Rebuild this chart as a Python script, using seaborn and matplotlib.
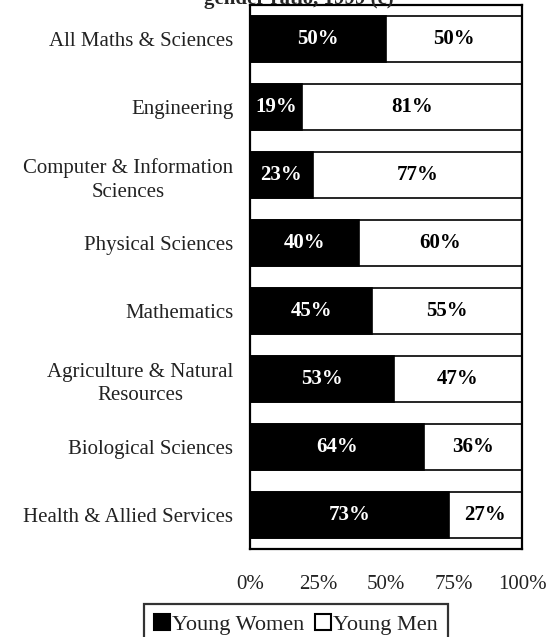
import matplotlib
matplotlib.use("Agg")
import matplotlib.pyplot as plt
from matplotlib.patches import Patch
import seaborn as sns
import pandas as pd

categories = [
    "All Maths & Sciences",
    "Engineering",
    "Computer & Information\nSciences",
    "Physical Sciences",
    "Mathematics",
    "Agriculture & Natural\nResources",
    "Biological Sciences",
    "Health & Allied Services",
]
young_women = [50, 19, 23, 40, 45, 53, 64, 73]
young_men = [50, 81, 77, 60, 55, 47, 36, 27]
x_ticks = [0, 25, 50, 75, 100]
x_tick_labels = ["0%", "25%", "50%", "75%", "100%"]
title = "gender ratio, 1999 (c)"
legend_labels = ["Young Women", "Young Men"]

sns.set_theme(style="white")
plt.rcParams["font.family"] = ["Liberation Serif", "DejaVu Serif"]

FS = 15

df = pd.DataFrame({
    "category": categories,
    "women": young_women,
    "men": young_men,
})
df["total"] = df["women"] + df["men"]

W, H = 559, 637
fig = plt.figure(figsize=(W / 100, H / 100), dpi=100)
ax = fig.add_axes([250 / W, (H - 549) / H, 272 / W, 544 / H])

# whole bar (men share shows as the white remainder), then women on top
sns.barplot(data=df, y="category", x="total", orient="h", color="white",
            edgecolor="black", linewidth=1.2, width=0.68, saturation=1, ax=ax)
sns.barplot(data=df, y="category", x="women", orient="h", color="black",
            edgecolor="black", linewidth=1.2, width=0.68, saturation=1, ax=ax)

for i, (w, m) in enumerate(zip(young_women, young_men)):
    ax.text(w / 2, i, f"{w}%", ha="center", va="center", color="white",
            fontsize=FS, fontweight="bold")
    ax.text(w + m / 2, i, f"{m}%", ha="center", va="center", color="black",
            fontsize=FS, fontweight="bold")

ax.set_xlim(0, 100)
ax.set_ylim(len(categories) - 0.5, -0.5)
ax.set_xticks(x_ticks)
ax.set_xticklabels(x_tick_labels, fontsize=FS)
ax.set_yticks(range(len(categories)))
ax.set_yticklabels(categories, fontsize=FS)
for lab in ax.get_yticklabels():
    lab.set_multialignment("center")
    lab.set_linespacing(1.35)
ax.tick_params(axis="x", length=0, pad=19, colors="#222222")
ax.tick_params(axis="y", length=0, pad=12, colors="#222222")
ax.set_xlabel("")
ax.set_ylabel("")
for sp in ax.spines.values():
    sp.set_visible(True)
    sp.set_color("black")
    sp.set_linewidth(1.6)

fig.text(299 / W, 1 - 4 / H, title, ha="center", va="baseline",
         fontsize=FS, fontweight="bold")

handles = [Patch(facecolor="black", edgecolor="black", linewidth=1.5),
           Patch(facecolor="white", edgecolor="black", linewidth=1.5)]
leg = fig.legend(handles, legend_labels, loc="upper left",
                 bbox_to_anchor=(144 / W, 1 - 604 / H), ncol=2,
                 fontsize=16, frameon=True, fancybox=False,
                 handlelength=0.7, handleheight=0.7, handletextpad=0.1,
                 columnspacing=0.5, borderpad=0.45, borderaxespad=0)
leg.get_frame().set_edgecolor("black")
leg.get_frame().set_linewidth(1.6)
for t in leg.get_texts():
    t.set_color("#222222")

fig.savefig("out.png", dpi=100)
